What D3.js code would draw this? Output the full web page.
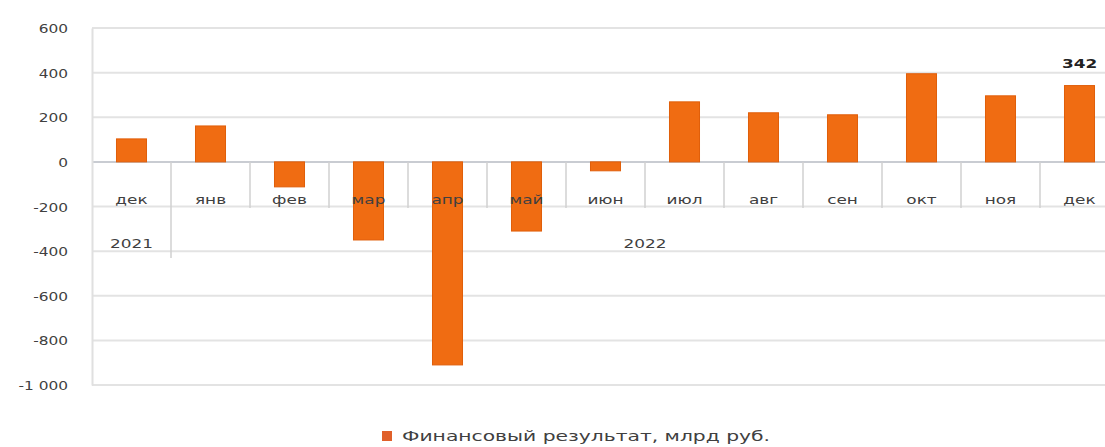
<!DOCTYPE html>
<html>
<head>
<meta charset="utf-8">
<script src="https://cdn.jsdelivr.net/npm/d3@7"></script>
<style>
  body { margin: 0; background: #fff; overflow: hidden; }
  text { font-family: "DejaVu Sans", sans-serif; fill: #404040; }
</style>
</head>
<body>
<div id="chart-area"></div>
<script>
// data
var months = ["дек", "янв", "фев", "мар", "апр", "май", "июн", "июл", "авг", "сен", "окт", "ноя", "дек"];
var values = [103, 161, -112, -350, -910, -310, -40, 269, 220, 211, 395, 296, 342];
var years = [
  {label: "2021", from: 0, to: 0},
  {label: "2022", from: 1, to: 12}
];
var yTicks = [600, 400, 200, 0, -200, -400, -600, -800, -1000];
var seriesName = "Финансовый результат, млрд руб.";

var width = 1105;
var height = 447;
var left = 92, step = 79;
var stretch = 1.3; // text in the picture is drawn wider than normal

var svg = d3.select('#chart-area')
  .append('svg')
    .attr('width', width)
    .attr('height', height);

var idx = months.map((d, i) => i);

var x = d3.scaleBand()
  .domain(idx)
  .range([left, left + step * months.length])
  .paddingInner(0.62)
  .paddingOuter(0.31);

var y = d3.scaleLinear()
  .domain([-1000, 600])
  .range([385, 28]);

var fmt = (d) => d3.format(",")(Math.abs(d)).replace(/,/g, " ");
var fmtSigned = (d) => (d < 0 ? "-" : "") + fmt(d);

// draws a horizontally stretched text label
function label(parent, xx, yy, anchor, str, size, bold, color, sx) {
  var t = parent.append("g")
    .attr("transform", "translate(" + xx + "," + yy + ") scale(" + (sx || stretch) + ",1)")
    .append("text")
      .attr("text-anchor", anchor)
      .attr("font-size", size + "px")
      .text(str);
  if (bold) t.attr("font-weight", "bold");
  if (color) t.style("fill", color);
  return t;
}

// gridlines
svg.append("g")
  .selectAll("line")
  .data(yTicks)
  .enter().append("line")
    .attr("x1", left)
    .attr("x2", width)
    .attr("y1", (d) => y(d))
    .attr("y2", (d) => y(d))
    .attr("stroke", (d) => d === 0 ? "#c9ccd2" : "#e3e3e3")
    .attr("stroke-width", 2);

// left axis (line only, labels drawn stretched)
var leftAxis = d3.axisLeft(y).tickValues(yTicks).tickSize(0).tickFormat("");
var yAxisGroup = svg.append("g")
  .attr("transform", "translate(" + left + ",0)")
  .call(leftAxis);
yAxisGroup.select(".domain").attr("stroke", "#e0e0e0").attr("stroke-width", 2);

var yLabels = svg.append("g");
yTicks.forEach((d) => {
  label(yLabels, 68, y(d) + 5, "end", fmtSigned(d), 13, false, null, 1.18);
});

// bars
svg.append("g")
  .selectAll("rect")
  .data(values)
  .enter().append("rect")
    .attr("x", (d, i) => x(i))
    .attr("y", (d) => y(Math.max(0, d)))
    .attr("width", x.bandwidth())
    .attr("height", (d) => Math.abs(y(d) - y(0)))
    .attr("fill", "#f06c12")
    .attr("stroke", "#e05e0a")
    .attr("stroke-width", 1);

// category separators
var sep = svg.append("g").attr("stroke", "#d0d0d0").attr("stroke-width", 1.5);
idx.slice(1).forEach((i) => {
  var xx = left + step * i;
  var isYear = years.some((yr) => yr.from === i);
  sep.append("line")
    .attr("x1", xx).attr("x2", xx)
    .attr("y1", y(0)).attr("y2", isYear ? 258 : 208);
});

// month labels
var mLabels = svg.append("g");
months.forEach((d, i) => {
  label(mLabels, x(i) + x.bandwidth() / 2, 204, "middle", d, 13);
});

// year labels
var yrLabels = svg.append("g");
years.forEach((d) => {
  var cx = d.to === d.from ? x(d.from) + x.bandwidth() / 2
    : (left + step * d.from + left + step * (d.to + 1)) / 2;
  label(yrLabels, cx, 248, "middle", d.label, 13);
});

// data label on last bar
var last = values.length - 1;
label(svg, x(last) + x.bandwidth() / 2, y(values[last]) - 18, "middle", values[last], 13, true, "#222");

// legend
var lg = svg.append("g").attr("transform", "translate(382,436)");
lg.append("rect")
  .attr("x", 0).attr("y", -5)
  .attr("width", 10).attr("height", 10)
  .attr("fill", "#e0602a");
lg.append("text")
  .attr("x", 20).attr("y", 5)
  .attr("font-size", "14px")
  .attr("textLength", 368)
  .attr("lengthAdjust", "spacingAndGlyphs")
  .text(seriesName);
</script>
</body>
</html>
